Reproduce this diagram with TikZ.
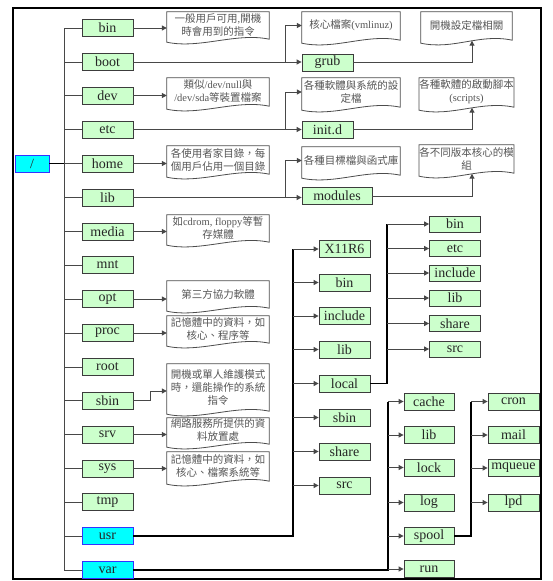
\documentclass[tikz,border=0pt]{standalone}
\usepackage{fontspec}
\setmainfont{Liberation Serif}
\newfontfamily\cjk{Noto Sans CJK TC}
\usetikzlibrary{arrows.meta,calc,shadows}
\definecolor{boxgreen}{RGB}{204,255,204}
\definecolor{boxcyan}{RGB}{0,255,255}
\definecolor{edgegray}{RGB}{60,60,60}
\definecolor{notetxt}{RGB}{85,85,85}
\newcommand\latpart[1]{{\rmfamily #1}}
\tikzset{
  dirbox/.style={draw=edgegray, fill=boxgreen, line width=0.8pt, minimum width=51, minimum height=17,
    inner sep=0pt, font=\fontsize{14}{14}\selectfont, text=black!85,
    drop shadow={shadow xshift=0.8pt,shadow yshift=-0.8pt,fill=black!55,opacity=1}},
  cyanbox/.style={dirbox, fill=boxcyan, draw=blue!80},
  conn/.style={draw=black!72, line width=1pt},
  thickconn/.style={draw=black, line width=1.4pt},
  arr/.style={conn, -{Triangle[length=5pt,width=5pt]}},
  notebody/.style={draw=none, inner sep=0pt, align=center, text=notetxt,
    font=\cjk\fontsize{10.5}{13}\selectfont},
  noteline/.style={draw=black!70, line width=0.8pt},
}
\newcommand\docnote[6]{%
  \node[notebody, minimum width={(#4)-(#2)}, minimum height={(#5)-(#3)-5}] (#1)
     at ({((#2)+(#4))/2},{((#3)+(#5)-5)/2}) {#6};
  \draw[noteline] (#1.north west) -- (#1.north east) -- ([yshift=-1pt]#1.south east)
     .. controls +(-33,-7) and +(33,7) .. ([yshift=-4pt]#1.south west) -- cycle;
}
\begin{document}
\begin{tikzpicture}[x=1pt,y=-1pt]
\useasboundingbox (0,0) rectangle (552,581);
\draw[line width=1.1pt] (13,8) rectangle (541,579);

% root
\node[cyanbox, minimum width=34] (root) at (32,163.5) {/};

% left column
\node[dirbox] (lbin)   at (107.5,28)    {bin};
\node[dirbox] (lboot)  at (107.5,62)    {boot};
\node[dirbox] (ldev)   at (107.5,95.5)  {dev};
\node[dirbox] (letc)   at (107.5,129.5) {etc};
\node[dirbox] (lhome)  at (107.5,163.5) {home};
\node[dirbox] (llib)   at (107.5,197.5) {lib};
\node[dirbox] (lmedia) at (107.5,231.5) {media};
\node[dirbox] (lmnt)   at (107.5,265)   {mnt};
\node[dirbox] (lopt)   at (107.5,299)   {opt};
\node[dirbox] (lproc)  at (107.5,333)   {proc};
\node[dirbox] (lroot)  at (107.5,367)   {root};
\node[dirbox] (lsbin)  at (107.5,400.5) {sbin};
\node[dirbox] (lsrv)   at (107.5,434.5) {srv};
\node[dirbox] (lsys)   at (107.5,468.5) {sys};
\node[dirbox] (ltmp)   at (107.5,502)   {tmp};
\node[cyanbox] (lusr)  at (107.5,536)   {usr};
\node[cyanbox] (lvar)  at (107.5,570)   {var};

% trunk
\coordinate (trtop) at (64,28);
\coordinate (trbot) at (64,570);
\draw[thickconn] (root.east) -- (root.east -| trtop);
\draw[conn] (trtop) -- (trbot);
\foreach \n in {lbin,lboot,ldev,letc,lhome,llib,lmedia,lmnt,lopt,lproc,lroot,lsbin,lsrv,lsys,ltmp,lusr,lvar}
  \draw[conn] (\n.west -| trtop) -- (\n.west);

% left notes
\docnote{nbin}{167}{12}{269}{43}{一般用戶可用\latpart{,}開機\\時會用到的指令}
\docnote{ndev}{167}{78}{269}{110}{類似\latpart{/dev/null}與\\\latpart{/dev/sda}等裝置檔案}
\docnote{nhome}{167}{146}{269}{178}{各使用者家目錄，每\\個用戶佔用一個目錄}
\docnote{nmedia}{167}{215}{269}{246}{如\latpart{cdrom, floppy}等暫\\存媒體}
\docnote{nopt}{167}{281}{269}{312}{第三方協力軟體}
\docnote{nproc}{167}{316}{269}{347}{記憶體中的資料，如\\核心、程序等}
\docnote{nsbin}{167}{364}{269}{415}{開機或單人維護模式\\時，還能操作的系統\\指令}
\docnote{nsrv}{167}{418}{269}{448}{網路服務所提供的資\\料放置處}
\docnote{nsys}{167}{452}{269}{485}{記憶體中的資料，如\\核心、檔案系統等}

\draw[arr] (lbin.east) -- (lbin.east -| nbin.west);
\draw[arr] (ldev.east) -- (ldev.east -| ndev.west);
\draw[arr] (lhome.east) -- (lhome.east -| nhome.west);
\draw[arr] (lmedia.east) -- (lmedia.east -| nmedia.west);
\draw[arr] (lopt.east) -- (lopt.east -| nopt.west);
\draw[arr] (lproc.east) -- (lproc.east -| nproc.west);
\draw[arr] (lsbin.east) -- ++(17,0) |- ([yshift=-4pt]nsbin.west);
\draw[arr] (lsrv.east) -- (lsrv.east -| nsrv.west);
\draw[arr] (lsys.east) -- (lsys.east -| nsys.west);

% top right
\node[dirbox] (grub)    at (327.5,62.5)  {grub};
\node[dirbox] (initd)   at (327.5,129.5) {init.d};
\node[dirbox, minimum width=70] (modules) at (337,196) {modules};

\docnote{nvml}{302}{12}{400}{44}{核心檔案\latpart{(vmlinuz)}}
\docnote{nbootcfg}{421}{12}{512}{44}{開機設定檔相關}
\docnote{netca}{302}{78}{400}{111}{各種軟體與系統的設\\定檔}
\docnote{netcb}{421}{78}{512}{111}{各種軟體的啟動腳本\\\latpart{(scripts)}}
\docnote{nliba}{302}{147}{400}{179}{各種目標檔與函式庫}
\docnote{nlibb}{421}{145}{512}{177}{各不同版本核心的模\\組}

\coordinate (jx) at (285,0);
\draw[arr] (lboot.east) -- (lboot.east -| grub.west);
\draw[arr] (lboot.east -| jx) |- (nvml.west);
\draw[arr] (grub.east) -| ([xshift=5.5pt,yshift=-1.5pt]nbootcfg.south);
\draw[arr] (letc.east) -- (letc.east -| initd.west);
\draw[arr] (letc.east -| jx) |- (netca.west);
\draw[arr] (initd.east) -| ([xshift=5.5pt,yshift=-1.5pt]netcb.south);
\draw[arr] (llib.east) -- (llib.east -| modules.west);
\draw[arr] (llib.east -| jx) |- (nliba.west);
\draw[arr] (modules.east) -| ([xshift=5.5pt,yshift=-1.5pt]nlibb.south);

% usr
\node[dirbox] (ux11)    at (344.5,249)   {X11R6};
\node[dirbox] (ubin)    at (344.5,282.5) {bin};
\node[dirbox] (uinc)    at (344.5,316)   {include};
\node[dirbox] (ulib)    at (344.5,349.5) {lib};
\node[dirbox] (ulocal)  at (344.5,383.5) {local};
\node[dirbox] (usbin)   at (344.5,417.5) {sbin};
\node[dirbox] (ushare)  at (344.5,451.5) {share};
\node[dirbox] (usrc)    at (344.5,485.5) {src};
\coordinate (ux) at (293,0);
\draw[thickconn] (lusr.east) -| (ux |- ux11.west);
\foreach \n in {ux11,ubin,uinc,ulib,ulocal,usbin,ushare,usrc}
  \draw[arr] (ux |- \n.west) -- (\n.west);

% local
\node[dirbox, minimum height=16] (cbin)   at (455,224)   {bin};
\node[dirbox, minimum height=16] (cetc)   at (455,248.5) {etc};
\node[dirbox, minimum height=16] (cinc)   at (455,273)   {include};
\node[dirbox, minimum height=16] (clib)   at (455,298)   {lib};
\node[dirbox, minimum height=16] (cshare) at (455,323.5) {share};
\node[dirbox, minimum height=16] (csrc)   at (455,349)   {src};
\coordinate (lx) at (387,0);
\draw[thickconn] (ulocal.east) -| (lx |- cbin.west);
\foreach \n in {cbin,cetc,cinc,clib,cshare,csrc}
  \draw[arr] (lx |- \n.west) -- (\n.west);

% var
\node[dirbox, minimum width=50] (vcache) at (429,401.5) {cache};
\node[dirbox, minimum width=50] (vlib)   at (429,435)   {lib};
\node[dirbox, minimum width=50] (vlock)  at (429,467.5) {lock};
\node[dirbox, minimum width=50] (vlog)   at (429,502.5) {log};
\node[dirbox, minimum width=50] (vspool) at (429,536)   {spool};
\node[dirbox, minimum width=50] (vrun)   at (429,569)   {run};
\coordinate (vx) at (388,0);
\draw[thickconn] (lvar.east) -| (vx |- vcache.west);
\foreach \n in {vcache,vlib,vlock,vlog,vspool,vrun}
  \draw[arr] (vx |- \n.west) -- (\n.west);

% spool
\node[dirbox] (scron)   at (513.5,401.5) {cron};
\node[dirbox] (smail)   at (513.5,435)   {mail};
\node[dirbox] (smq)     at (513.5,468)   {mqueue};
\node[dirbox] (slpd)    at (513.5,502.5) {lpd};
\coordinate (sx) at (471,0);
\draw[thickconn] (vspool.east) -| (sx |- scron.west);
\foreach \n in {scron,smail,smq,slpd}
  \draw[arr] (sx |- \n.west) -- (\n.west);
\end{tikzpicture}
\end{document}
